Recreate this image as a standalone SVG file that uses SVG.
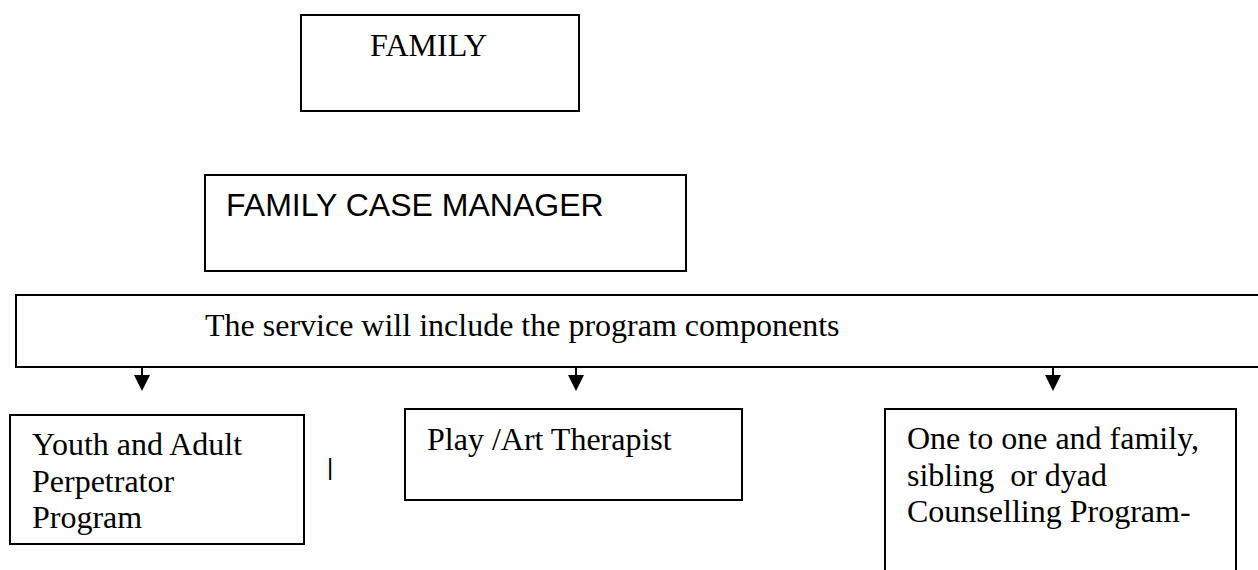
<svg xmlns="http://www.w3.org/2000/svg" width="1258" height="570" viewBox="0 0 1258 570">
<style>
.box{fill:#fff;stroke:#000;stroke-width:2}
.serif{font-family:"Liberation Serif","Times New Roman",serif;font-size:32px;fill:#000}
.sans{font-family:"Liberation Sans",Arial,sans-serif;font-size:32px;fill:#000}
.conn{stroke:#000;stroke-width:2;fill:none}
.head{fill:#000}
</style>
<rect width="1258" height="570" fill="#fff"/>
<g id="family">
<rect class="box" x="301" y="15" width="278" height="96"/>
<text class="serif" x="370" y="56">FAMILY</text>
</g>
<g id="case-manager">
<rect class="box" x="205" y="175" width="481" height="96"/>
<text class="sans" x="226" y="216">FAMILY CASE MANAGER</text>
</g>
<g id="service">
<rect class="box" x="16" y="295" width="1262" height="72"/>
<text class="serif" x="205" y="336">The service will include the program components</text>
</g>
<g id="connectors">
<line class="conn" x1="142" y1="367" x2="142" y2="375"/>
<path class="head" d="M134,375 L150,375 L142,391 Z"/>
<line class="conn" x1="576" y1="367" x2="576" y2="375"/>
<path class="head" d="M568,375 L584,375 L576,391 Z"/>
<line class="conn" x1="1053" y1="367" x2="1053" y2="375"/>
<path class="head" d="M1045,375 L1061,375 L1053,391 Z"/>
</g>
<g id="youth">
<rect class="box" x="10" y="415" width="294" height="129"/>
<text class="serif" x="32" y="455">Youth and Adult</text>
<text class="serif" x="32" y="492">Perpetrator</text>
<text class="serif" x="32" y="528">Program</text>
</g>
<g id="mark">
<text x="327" y="475" style="font-family:'Liberation Sans',Arial,sans-serif;font-size:24px">|</text>
</g>
<g id="play">
<rect class="box" x="405" y="409" width="337" height="91"/>
<text class="serif" x="427" y="450">Play /Art Therapist</text>
</g>
<g id="counselling">
<rect class="box" x="885" y="409" width="351" height="200"/>
<text class="serif" x="907" y="449">One to one and family,</text>
<text class="serif" x="907" y="486" xml:space="preserve">sibling  or dyad</text>
<text class="serif" x="907" y="522">Counselling Program-</text>
</g>
</svg>
